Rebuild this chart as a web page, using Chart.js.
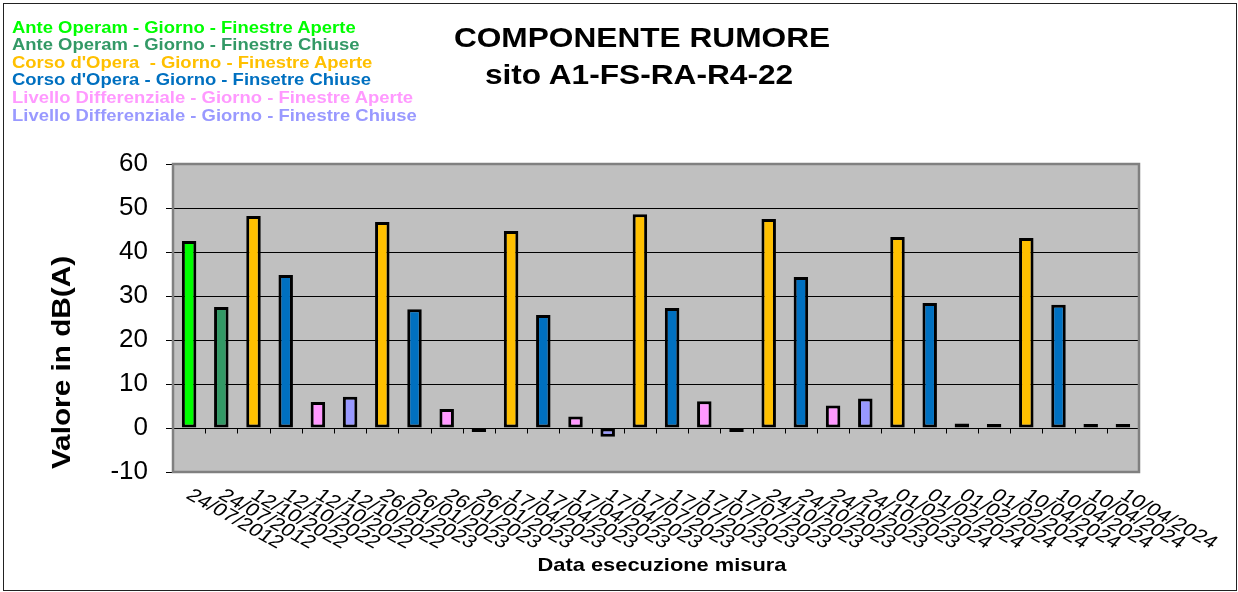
<!DOCTYPE html>
<html>
<head>
<meta charset="utf-8">
<script src="https://cdn.jsdelivr.net/npm/chart.js@4.4.1/dist/chart.umd.min.js"></script>
<style>
  html, body { margin:0; padding:0; background:#fff; }
  #wrap { position:relative; width:1238px; height:592px; overflow:hidden; font-family:"Liberation Sans", Arial, sans-serif; }
  #c { position:absolute; left:0; top:0; }
  #frame { position:absolute; left:3px; top:3px; width:1232px; height:586px; border:1px solid #222; pointer-events:none; }
  .t { position:absolute; white-space:pre; font-weight:bold; color:#000; }
  #legend { position:absolute; left:11.5px; top:18.6px; font-weight:bold; font-size:17px; line-height:17.6px; transform:scaleX(1.085); transform-origin:left top; }
  #legend div { white-space:pre; }
</style>
</head>
<body>
<div id="wrap">
  <canvas id="c" width="1238" height="592"></canvas>
  <div id="frame"></div>
  <div id="legend"></div>
  <div class="t" id="title1" style="left:341.5px; top:24.3px; width:600px; text-align:center; font-size:28px; line-height:28px; transform:scaleX(1.13);"></div>
  <div class="t" id="title2" style="left:339px; top:61.3px; width:600px; text-align:center; font-size:28px; line-height:28px; transform:scaleX(1.13);"></div>
  <div class="t" id="ytitle" style="left:-88.7px; top:349.5px; width:300px; height:25px; text-align:center; font-size:25px; line-height:25px; transform:rotate(-90deg) scaleX(1.19);"></div>
  <div class="t" id="xtitle" style="left:461.7px; top:555.3px; width:400px; text-align:center; font-size:19px; line-height:19px; transform:scaleX(1.15);"></div>
</div>
<script>
const titleLines = ["COMPONENTE RUMORE", "sito A1-FS-RA-R4-22"];
const yAxisTitle = "Valore in dB(A)";
const xAxisTitle = "Data esecuzione misura";

const categories = [
  "24/07/2012", "24/07/2012",
  "12/10/2022", "12/10/2022", "12/10/2022", "12/10/2022",
  "26/01/2023", "26/01/2023", "26/01/2023", "26/01/2023",
  "17/04/2023", "17/04/2023", "17/04/2023", "17/04/2023",
  "17/07/2023", "17/07/2023", "17/07/2023", "17/07/2023",
  "24/10/2023", "24/10/2023", "24/10/2023", "24/10/2023",
  "01/02/2024", "01/02/2024", "01/02/2024", "01/02/2024",
  "10/04/2024", "10/04/2024", "10/04/2024", "10/04/2024"
];

const seriesNames = [
  "Ante Operam - Giorno - Finestre Aperte",
  "Ante Operam - Giorno - Finestre Chiuse",
  "Corso d'Opera  - Giorno - Finestre Aperte",
  "Corso d'Opera - Giorno - Finsetre Chiuse",
  "Livello Differenziale - Giorno - Finestre Aperte",
  "Livello Differenziale - Giorno - Finestre Chiuse"
];
const seriesColors = ["#00FF00", "#339966", "#FFC000", "#0070C0", "#FF99FF", "#9999FF"];

// values per series (one per survey)
const anteOperamAperte = [42.5];
const anteOperamChiuse = [27.5];
const corsoOperaAperte = [48.2, 46.8, 44.8, 48.6, 47.5, 43.4, 43.2];
const corsoOperaChiuse = [34.8, 27.0, 25.7, 27.3, 34.3, 28.4, 28.0];
const differenzialeAperte = [5.9, 4.3, 2.6, 6.1, 5.1, 1.0, 0.7];
const differenzialeChiuse = [7.1, -0.4, -2.0, -0.5, 6.7, 0.5, 0.3];

const yMin = -10, yMax = 60, yStep = 10;

function place(values, start, step) {
  const arr = new Array(categories.length).fill(null);
  values.forEach((v, i) => { arr[start + i * step] = v; });
  return arr;
}

const seriesData = [
  place(anteOperamAperte, 0, 1),
  place(anteOperamChiuse, 1, 1),
  place(corsoOperaAperte, 2, 4),
  place(corsoOperaChiuse, 3, 4),
  place(differenzialeAperte, 4, 4),
  place(differenzialeChiuse, 5, 4)
];

document.getElementById('title1').textContent = titleLines[0];
document.getElementById('title2').textContent = titleLines[1];
document.getElementById('ytitle').textContent = yAxisTitle;
document.getElementById('xtitle').textContent = xAxisTitle;
const lg = document.getElementById('legend');
seriesNames.forEach((n, i) => {
  const d = document.createElement('div');
  d.textContent = n;
  d.style.color = seriesColors[i];
  lg.appendChild(d);
});

const FONT = '"Liberation Sans", Arial, sans-serif';

const plotDecor = {
  id: 'plotDecor',
  beforeDraw(chart) {
    const {ctx, chartArea: a} = chart;
    ctx.save();
    ctx.fillStyle = '#C0C0C0';
    ctx.fillRect(a.left, a.top, a.right - a.left, a.bottom - a.top);
    ctx.restore();
  },
  beforeDatasetsDraw(chart) {
    const {ctx, chartArea: a, scales} = chart;
    const x = scales.x, y = scales.y;
    ctx.save();
    const y0 = Math.round(y.getPixelForValue(0)) + 0.5;
    ctx.strokeStyle = '#000';
    ctx.lineWidth = 1;
    ctx.beginPath();
    for (let k = 1; k < categories.length; k++) {
      const px = Math.round(x.getPixelForValue(k - 0.5)) + 0.5;
      ctx.moveTo(px, y0);
      ctx.lineTo(px, y0 + 5);
    }
    ctx.stroke();
    ctx.strokeStyle = '#808080';
    ctx.lineWidth = 2.5;
    ctx.strokeRect(a.left, a.top, a.right - a.left, a.bottom - a.top);
    ctx.restore();
  },
  afterDraw(chart) {
    const {ctx, scales} = chart;
    const x = scales.x;
    const ang = 35 * Math.PI / 180;
    ctx.save();
    ctx.fillStyle = '#000';
    ctx.font = '18px ' + FONT;
    ctx.textAlign = 'left';
    ctx.textBaseline = 'top';
    categories.forEach((lab, i) => {
      const px = x.getPixelForValue(i);
      ctx.save();
      ctx.translate(px + 6, 486);
      ctx.scale(1.25, 1);
      ctx.rotate(ang);
      ctx.fillText(lab, 0, 0);
      ctx.restore();
    });
    ctx.restore();
  }
};

new Chart(document.getElementById('c'), {
  type: 'bar',
  data: {
    labels: categories,
    datasets: seriesData.map((d, i) => ({
      label: seriesNames[i],
      data: d,
      backgroundColor: seriesColors[i]
    }))
  },
  options: {
    responsive: false,
    animation: false,
    devicePixelRatio: 1,
    layout: { padding: { top: 164, bottom: 120, left: 0, right: 99 } },
    datasets: {
      bar: {
        grouped: false,
        categoryPercentage: 1,
        barPercentage: 0.45,
        borderWidth: 3,
        borderColor: '#000',
        borderSkipped: false,
        inflateAmount: 0,
        minBarLength: 4
      }
    },
    plugins: {
      legend: { display: false },
      title: { display: false },
      tooltip: { enabled: false }
    },
    scales: {
      x: { type: 'category', display: false, offset: true },
      y: {
        min: yMin, max: yMax,
        ticks: { stepSize: yStep, color: '#000', padding: 18, font: { family: FONT, size: 26 } },
        grid: {
          color: (c) => (c.tick && (c.tick.value === yMax || c.tick.value === yMin)) ? 'rgba(0,0,0,0)' : '#000',
          tickColor: '#000',
          tickLength: 7,
          lineWidth: 1
        },
        border: { display: false },
        afterFit(scale) { scale.width = 173; }
      }
    }
  },
  plugins: [plotDecor]
});
</script>
</body>
</html>
